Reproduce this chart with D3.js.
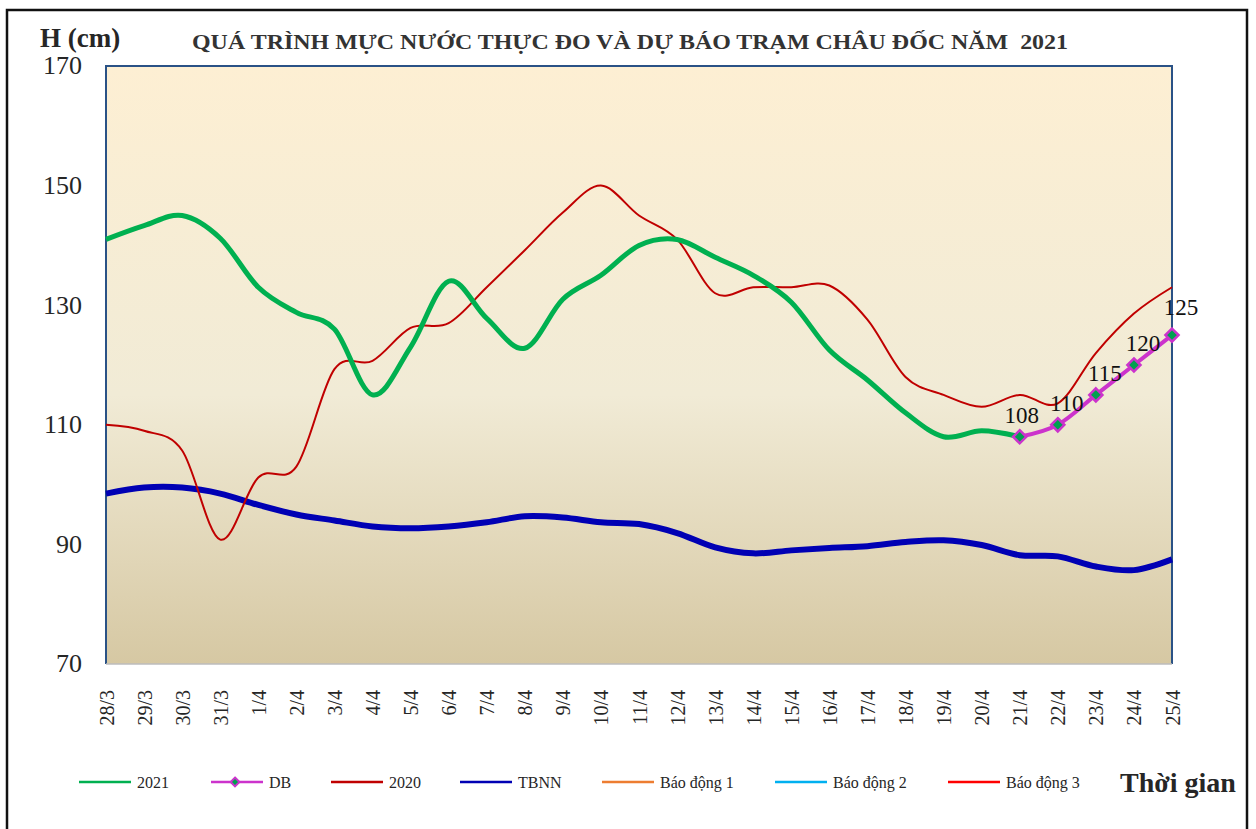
<!DOCTYPE html>
<html>
<head>
<meta charset="utf-8">
<script src="https://cdn.jsdelivr.net/npm/d3@7"></script>
<style>
  body { margin: 0; background: #fff; }
  svg text { font-family: "Liberation Serif", "Times New Roman", serif; fill: #262626; }
</style>
</head>
<body>
<div id="chart"></div>
<script>
// ngay do / du bao
var dates = ['28/3','29/3','30/3','31/3','1/4','2/4','3/4','4/4','5/4','6/4','7/4','8/4','9/4','10/4',
  '11/4','12/4','13/4','14/4','15/4','16/4','17/4','18/4','19/4','20/4','21/4','22/4','23/4','24/4','25/4'];
var h2021 = [141, 143.3, 145, 141.2, 133, 128.8, 126, 115, 123, 134, 127.8, 122.8, 131, 135,
  140, 141, 138, 135, 130.5, 122.5, 117.5, 112, 108, 109, 108];
var h2020 = [110, 109, 105.7, 90.8, 101.2, 103, 119.3, 120.7, 126.2, 127, 133, 139.2, 145.5, 150,
  145, 141, 132, 133, 133, 133.3, 127.6, 118, 115, 113, 115, 113.6, 122, 128.6, 133];
var tbnn = [98.5, 99.5, 99.5, 98.5, 96.6, 95, 94, 93, 92.7, 93, 93.7, 94.7, 94.5, 93.7,
  93.4, 91.9, 89.5, 88.5, 89, 89.4, 89.7, 90.4, 90.7, 89.9, 88.2, 88, 86.3, 85.7, 87.5];
var dbDates = ['21/4','22/4','23/4','24/4','25/4'];
var dbValues = [108, 110, 115, 120, 125];
var yTicks = [70, 90, 110, 130, 150, 170];
var legendNames = ['2021', 'DB', '2020', 'TBNN', 'Báo động 1', 'Báo động 2', 'Báo động 3'];
var legendColors = ['#00B050', '#CC33CC', '#C00000', '#0000B4', '#ED7D31', '#00B0F0', '#FF0000'];

var W = 1256, H = 829;
var svg = d3.select('#chart').append('svg')
  .attr('width', W)
  .attr('height', H);

// khung ngoai
svg.append('rect')
  .attr('x', 7).attr('y', 10).attr('width', 1240).attr('height', 840)
  .attr('fill', '#fff').attr('stroke', '#111').attr('stroke-width', 2.5);

var x = d3.scalePoint().domain(dates).range([106, 1172]);
var y = d3.scaleLinear().domain([70, 170]).range([664, 66]);

var defs = svg.append('defs');
var grad = defs.append('linearGradient').attr('id', 'bg')
  .attr('x1', 0).attr('y1', 0).attr('x2', 0).attr('y2', 1);
grad.append('stop').attr('offset', '0%').attr('stop-color', '#FDEFD3');
grad.append('stop').attr('offset', '55%').attr('stop-color', '#F1EBD6');
grad.append('stop').attr('offset', '100%').attr('stop-color', '#D6C8A3');

svg.append('rect')
  .attr('x', 106).attr('y', 66).attr('width', 1066).attr('height', 598)
  .attr('fill', 'url(#bg)');

// truc
var yAxis = svg.append('g')
  .attr('transform', 'translate(106,0)')
  .call(d3.axisLeft(y).tickValues(yTicks).tickSize(0).tickPadding(24));
yAxis.select('.domain').remove();
yAxis.selectAll('text').style('font-size', '26px').attr('dy', '0.3em');

var xAxis = svg.append('g')
  .attr('transform', 'translate(0,664)')
  .call(d3.axisBottom(x).tickSize(0));
xAxis.select('.domain').remove();
xAxis.selectAll('text')
  .style('font-size', '20px')
  .attr('text-anchor', 'end')
  .attr('transform', 'rotate(-90)')
  .attr('x', -26).attr('y', 0).attr('dy', '0.35em');

// vien vung ve
svg.append('path')
  .attr('d', 'M106,664 V66 H1172 V664')
  .attr('fill', 'none').attr('stroke', '#2A5286').attr('stroke-width', 2);
svg.append('line')
  .attr('x1', 106).attr('x2', 1172).attr('y1', 664).attr('y2', 664)
  .attr('stroke', '#BDBDBD').attr('stroke-width', 1.5);

var line = d3.line()
  .x(function(d) { return x(d[0]); })
  .y(function(d) { return y(d[1]); })
  .curve(d3.curveCatmullRom.alpha(0));

function pairs(keys, vals) {
  return vals.map(function(v, i) { return [keys[i], v]; });
}

svg.append('path').datum(pairs(dates, tbnn))
  .attr('d', line).attr('fill', 'none')
  .attr('stroke', legendColors[3]).attr('stroke-width', 6);
svg.append('path').datum(pairs(dates, h2020))
  .attr('d', line).attr('fill', 'none')
  .attr('stroke', legendColors[2]).attr('stroke-width', 2);
svg.append('path').datum(pairs(dates, h2021))
  .attr('d', line).attr('fill', 'none')
  .attr('stroke', legendColors[0]).attr('stroke-width', 5);

var db = pairs(dbDates, dbValues);
svg.append('path').datum(db)
  .attr('d', line).attr('fill', 'none')
  .attr('stroke', legendColors[1]).attr('stroke-width', 4);

var diamond = d3.symbol().type(d3.symbolDiamond2).size(110);
svg.selectAll('.dbpt').data(db).enter()
  .append('path')
  .attr('class', 'dbpt')
  .attr('d', diamond)
  .attr('transform', function(d) { return 'translate(' + x(d[0]) + ',' + y(d[1]) + ')'; })
  .attr('fill', '#00A050').attr('stroke', '#CC33CC').attr('stroke-width', 2.5);

svg.selectAll('.dblbl').data(db).enter()
  .append('text')
  .attr('class', 'dblbl')
  .attr('x', function(d, i) { return x(d[0]) + (i == 0 ? 2 : 9); })
  .attr('y', function(d, i) { return y(d[1]) - (i == 4 ? 28 : 22); })
  .attr('text-anchor', 'middle')
  .attr('dy', '0.35em')
  .style('font-size', '23px')
  .style('fill', '#111')
  .text(function(d) { return d[1]; });

// tieu de
svg.append('text')
  .attr('x', 40).attr('y', 47)
  .style('font-size', '27px').style('font-weight', 'bold')
  .text('H (cm)');
svg.append('text')
  .attr('x', 192).attr('y', 49)
  .attr('textLength', 876).attr('lengthAdjust', 'spacingAndGlyphs')
  .style('font-size', '21px').style('font-weight', 'bold')
  .style('fill', '#333')
  .style('white-space', 'pre')
  .text('QUÁ TRÌNH MỰC NƯỚC THỰC ĐO VÀ DỰ BÁO TRẠM CHÂU ĐỐC NĂM  2021');

// chu giai
var legX = [79, 211, 331, 460, 602, 775, 948];
var leg = svg.selectAll('.leg').data(legendNames).enter()
  .append('g').attr('class', 'leg')
  .attr('transform', function(d, i) { return 'translate(' + legX[i] + ',782)'; });
leg.append('line')
  .attr('x1', 0).attr('x2', 52).attr('y1', 0).attr('y2', 0)
  .attr('stroke', function(d, i) { return legendColors[i]; })
  .attr('stroke-width', 2.5);
leg.filter(function(d) { return d == 'DB'; }).append('path')
  .attr('d', d3.symbol().type(d3.symbolDiamond2).size(50))
  .attr('transform', 'translate(24,0)')
  .attr('fill', '#00A050').attr('stroke', '#CC33CC').attr('stroke-width', 2);
leg.append('text')
  .attr('x', 58).attr('y', 0).attr('dy', '0.35em')
  .style('font-size', '16px')
  .text(function(d) { return d; });

svg.append('text')
  .attr('x', 1120).attr('y', 792)
  .style('font-size', '28px').style('font-weight', 'bold')
  .text('Thời gian');
</script>
</body>
</html>
